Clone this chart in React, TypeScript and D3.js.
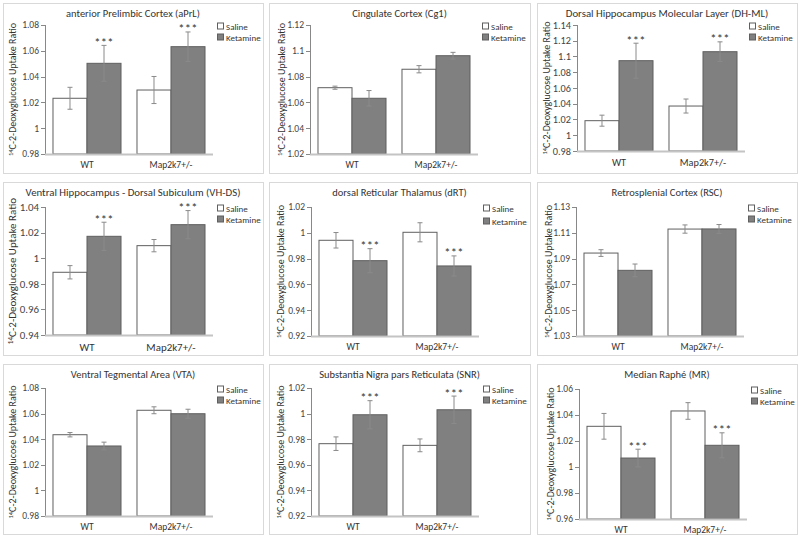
import React from "react";
import * as d3 from "d3";

const regions = [
  "anterior Prelimbic Cortex (aPrL)",
  "Cingulate Cortex (Cg1)",
  "Dorsal Hippocampus Molecular Layer (DH-ML)",
  "Ventral Hippocampus - Dorsal Subiculum (VH-DS)",
  "dorsal Reticular Thalamus (dRT)",
  "Retrosplenial Cortex (RSC)",
  "Ventral Tegmental Area (VTA)",
  "Substantia Nigra pars Reticulata (SNR)",
  "Median Raphé (MR)",
];
const genotypes = ["WT", "Map2k7+/-"];
const treatments = ["Saline", "Ketamine"];

const salineMean = [
  [1.0232, 1.0296], [1.0714, 1.0857], [1.0185, 1.0371],
  [0.989, 1.0098], [0.9942, 1.0004], [1.0943, 1.1129],
  [1.0435, 1.0626], [0.9765, 0.9752], [1.0313, 1.0431],
];
const salineErr = [
  [0.0085, 0.0105], [0.0012, 0.0028], [0.007, 0.0089],
  [0.0052, 0.0048], [0.006, 0.0074], [0.0026, 0.0032],
  [0.0017, 0.0027], [0.0053, 0.005], [0.0099, 0.0064],
];
const ketamineMean = [
  [1.0503, 1.0632], [1.0632, 1.0962], [1.0947, 1.1061],
  [1.0171, 1.0262], [0.9784, 0.9743], [1.0809, 1.113],
  [1.0347, 1.0599], [0.9991, 1.003], [1.0069, 1.0167],
];
const ketamineErr = [
  [0.0139, 0.0114], [0.006, 0.0026], [0.0222, 0.0125],
  [0.011, 0.011], [0.0093, 0.0078], [0.0049, 0.0034],
  [0.003, 0.0035], [0.011, 0.0107], [0.0068, 0.0096],
];
const significant = [true, false, true, true, true, false, false, true, true];

const yTicks = [
  [0.98, 1, 1.02, 1.04, 1.06, 1.08],
  [1.02, 1.04, 1.06, 1.08, 1.1, 1.12],
  [0.98, 1, 1.02, 1.04, 1.06, 1.08, 1.1, 1.12, 1.14],
  [0.94, 0.96, 0.98, 1, 1.02, 1.04],
  [0.92, 0.94, 0.96, 0.98, 1, 1.02],
  [1.03, 1.05, 1.07, 1.09, 1.11, 1.13],
  [0.98, 1, 1.02, 1.04, 1.06, 1.08],
  [0.92, 0.94, 0.96, 0.98, 1, 1.02],
  [0.96, 0.98, 1, 1.02, 1.04, 1.06],
];

// layout: panel box [x, y, w, h], plot [axisX, top, bottom]
const boxes = [
  [3, 3, 260, 170], [269, 3, 261, 170], [537, 3, 260, 170],
  [3, 182, 260, 173], [269, 182, 261, 173], [537, 182, 260, 173],
  [3, 364, 260, 170], [269, 364, 261, 170], [537, 364, 260, 170],
];
const plots = [
  [45, 25, 154], [310, 25, 154], [577, 25, 151],
  [45, 207, 335], [311, 207, 336], [576, 207, 336],
  [45, 388, 516], [311, 388, 516], [579, 389, 519],
];
const labelXs = [16, 285, 550, 16, 284, 552, 16, 284, 554];
const fontScale = [1, 1, 1.08, 1.15, 1, 1, 1, 1, 1];
const legendGap = [11, 11, 11, 11, 13, 11, 11, 11, 11];

const FONT = "Carlito, Calibri, Lato, 'Open Sans', sans-serif";
const fmt = (v: number) => String(+v.toFixed(2));

function Panel({ i }: { i: number }) {
  const [bx, by, bw, bh] = boxes[i];
  const [ax, top, bottom] = plots[i];
  const fs = fontScale[i];
  const ticks = yTicks[i];
  const plotW = 168;
  const y = d3.scaleLinear().domain([ticks[0], ticks[ticks.length - 1]]).range([bottom, top]);
  const x0 = d3.scaleBand().domain(genotypes).range([ax, ax + plotW]).paddingInner(0).paddingOuter(0);
  const x1 = d3.scaleBand().domain(treatments).range([0, x0.bandwidth()]).paddingInner(0).paddingOuter(0.235);
  const means = [salineMean[i], ketamineMean[i]];
  const errs = [salineErr[i], ketamineErr[i]];
  const fills = ["#ffffff", "#808080"];
  const labelCy = (top + bottom) / 2;
  const lx = labelXs[i];
  const lfs = i === 3 ? 11 : 10;
  return (
    <g>
      <rect x={bx + 0.5} y={by + 0.5} width={bw} height={bh} fill="#fff" stroke="#d9d9d9" />
      <text x={bx + bw / 2} y={by + 14} textAnchor="middle" fontSize={i === 2 || i === 3 ? 10.8 : 10.5} fill="#333" fontFamily={FONT}>
        {regions[i]}
      </text>
      {/* y axis */}
      <line x1={ax + 0.5} x2={ax + 0.5} y1={top} y2={bottom} stroke="#888" />
      {ticks.map((t) => (
        <g key={t}>
          <line x1={ax - 4} x2={ax} y1={Math.round(y(t)) + 0.5} y2={Math.round(y(t)) + 0.5} stroke="#888" />
          <text x={ax - 6} y={y(t) + 3.3 * fs} textAnchor="end" fontSize={9.5 * fs} fill="#444" fontFamily={FONT}>
            {fmt(t)}
          </text>
        </g>
      ))}
      <text
        transform={`translate(${lx},${labelCy}) rotate(-90)`}
        textAnchor="middle"
        fontSize={lfs}
        fill="#333"
        fontFamily={FONT}
      >
        <tspan fontSize={lfs * 0.65} dy={-3.5}>14</tspan>
        <tspan dy={3.5}>C-2-Deoxyglucose Uptake Ratio</tspan>
      </text>
      {/* bars */}
      {genotypes.map((g, gi) => (
        <g key={g}>
          {treatments.map((t, ti) => {
            const bxp = (x0(g) as number) + (x1(t) as number);
            const w = x1.bandwidth();
            const v = means[ti][gi];
            const e = errs[ti][gi];
            const cx = bxp + w / 2;
            return (
              <g key={t}>
                <rect x={bxp} y={y(v)} width={w} height={bottom - y(v)} fill={fills[ti]} stroke="#5f5f5f" strokeWidth={1} />
                <line x1={cx} x2={cx} y1={y(v + e)} y2={y(v - e)} stroke="#8a8a8a" />
                <line x1={cx - 2.5} x2={cx + 2.5} y1={y(v + e)} y2={y(v + e)} stroke="#8a8a8a" />
                <line x1={cx - 2.5} x2={cx + 2.5} y1={y(v - e)} y2={y(v - e)} stroke="#8a8a8a" />
                {ti === 1 && significant[i] && (
                  <text x={cx} y={y(v + e) + 1.5} textAnchor="middle" fontSize={12.5} letterSpacing={0.3} fill="#333" fontFamily={FONT}>
                    ***
                  </text>
                )}
              </g>
            );
          })}
          <text x={(x0(g) as number) + x0.bandwidth() / 2} y={bottom + 14 * fs} textAnchor="middle" fontSize={9.5 * fs} fill="#333" fontFamily={FONT}>
            {g}
          </text>
        </g>
      ))}
      {/* x axis */}
      <line x1={ax} x2={ax + plotW} y1={bottom + 0.5} y2={bottom + 0.5} stroke="#c4c4c4" strokeWidth={2} />
      {/* legend */}
      {treatments.map((t, ti) => (
        <g key={t} transform={`translate(${ax + 172},${top + 1.5 + ti * legendGap[i]})`}>
          <rect x={0.5} y={-3.5} width={6} height={6} fill={fills[ti]} stroke="#5f5f5f" />
          <text x={9} y={3} fontSize={9} fill="#333" fontFamily={FONT}>{t}</text>
        </g>
      ))}
    </g>
  );
}

export default function App() {
  return (
    <svg width={800} height={537} style={{ position: "absolute", left: 0, top: 0, background: "#fff" }}>
      <rect width={800} height={537} fill="#fff" />
      {regions.map((_, i) => (
        <Panel key={i} i={i} />
      ))}
    </svg>
  );
}
